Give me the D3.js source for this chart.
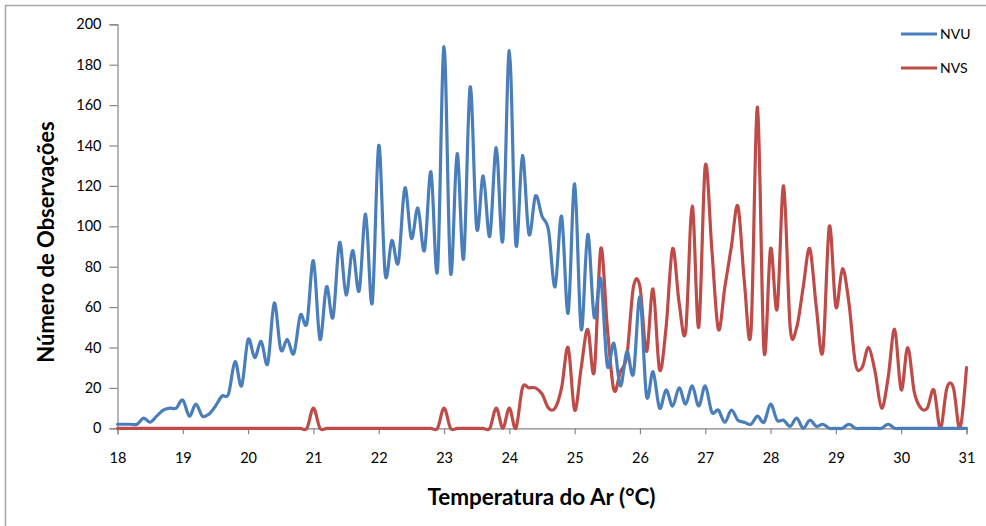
<!DOCTYPE html>
<html><head><meta charset="utf-8">
<script src="https://cdn.jsdelivr.net/npm/d3@7/dist/d3.min.js"></script>
<style>html,body{margin:0;padding:0;background:#fff;}svg{display:block;}</style>
</head><body>
<svg id="chart" width="986" height="526"></svg>
<script>
const temps = [18.0,18.1,18.2,18.3,18.4,18.5,18.6,18.7,18.8,18.9,
19.0,19.1,19.2,19.3,19.4,19.5,19.6,19.7,19.8,19.9,
20.0,20.1,20.2,20.3,20.4,20.5,20.6,20.7,20.8,20.9,
21.0,21.1,21.2,21.3,21.4,21.5,21.6,21.7,21.8,21.9,
22.0,22.1,22.2,22.3,22.4,22.5,22.6,22.7,22.8,22.9,
23.0,23.1,23.2,23.3,23.4,23.5,23.6,23.7,23.8,23.9,
24.0,24.1,24.2,24.3,24.4,24.5,24.6,24.7,24.8,24.9,
25.0,25.1,25.2,25.3,25.4,25.5,25.6,25.7,25.8,25.9,
26.0,26.1,26.2,26.3,26.4,26.5,26.6,26.7,26.8,26.9,
27.0,27.1,27.2,27.3,27.4,27.5,27.6,27.7,27.8,27.9,
28.0,28.1,28.2,28.3,28.4,28.5,28.6,28.7,28.8,28.9,
29.0,29.1,29.2,29.3,29.4,29.5,29.6,29.7,29.8,29.9,
30.0,30.1,30.2,30.3,30.4,30.5,30.6,30.7,30.8,30.9,
31.0];

const nvu = [2,2,2,2,5,3,6,9,10,10,
14,6,12,6,7,11,16,17,33,21,
44,35,43,32,62,39,44,37,56,52,
83,44,70,55,92,66,88,68,106,62,
140,76,93,82,119,94,109,88,127,78,
189,77,136,84,169,99,125,95,139,93,
187,91,135,96,115,105,98,70,105,57,
121,49,96,55,74,31,42,21,38,27,
65,16,28,10,19,11,20,12,21,11,
21,8,9,3,9,4,3,2,6,3,
12,4,4,1,5,0,4,1,2,0,
0,0,2,0,0,0,0,0,2,0,
0,0,0,0,0,0,0,0,0,0,
0];

const nvs = [0,0,0,0,0,0,0,0,0,0,
0,0,0,0,0,0,0,0,0,0,
0,0,0,0,0,0,0,0,0,0,
10,0,0,0,0,0,0,0,0,0,
0,0,0,0,0,0,0,0,0,0,
10,0,0,0,0,0,0,0,10,0,
10,0,20,20,20,17,10,10,20,40,
9,30,49,28,89,50,19,28,36,70,
70,38,69,29,50,89,62,48,110,50,
130,89,49,70,90,110,72,48,159,38,
89,59,120,50,50,70,89,60,38,100,
60,79,62,32,30,40,28,10,25,49,
19,40,18,10,10,19,0,20,20,0,
30];

const xTicks = [18,19,20,21,22,23,24,25,26,27,28,29,30,31];
const yTicks = [0,20,40,60,80,100,120,140,160,180,200];
const seriesNames = ["NVU","NVS"];
const seriesColors = ["#4a7ebb","#be4b48"];

const svg = d3.select("#chart");
const W = 986, H = 526;
const mLeft = 117.5, mRight = 966.5, mTop = 24.3, mBottom = 428.3;

// outer frame
svg.append("path").attr("d", `M5.5,${H} L5.5,5.5 L${W},5.5`)
  .attr("fill","none").attr("stroke","#a6a6a6").attr("stroke-width",1.5);

const x = d3.scaleLinear().domain([18,31]).range([mLeft,mRight]);
const y = d3.scaleLinear().domain([0,200]).range([mBottom,mTop]);

const font = "Lato, 'Open Sans', sans-serif";

// y axis
const yAxis = svg.append("g").attr("transform",`translate(${mLeft},0)`)
  .call(d3.axisLeft(y).tickValues(yTicks).tickSize(8).tickPadding(8).tickFormat(d3.format("d")));
yAxis.select(".domain").attr("stroke","#868686").attr("stroke-width",1.2);
yAxis.selectAll(".tick line").attr("stroke","#868686").attr("stroke-width",1.2);
yAxis.selectAll(".tick text").attr("fill","#000").style("font-family",font).style("font-size","14.5px");

// x axis
const xAxis = svg.append("g").attr("transform",`translate(0,${mBottom})`)
  .call(d3.axisBottom(x).tickValues(xTicks).tickSize(6).tickPadding(14).tickFormat(d3.format("d")));
xAxis.select(".domain").attr("stroke","#868686").attr("stroke-width",1.2);
xAxis.selectAll(".tick line").attr("stroke","#868686").attr("stroke-width",1.2);
xAxis.selectAll(".tick text").attr("fill","#000").attr("dy",null).attr("y",34.5)
  .style("font-family",font).style("font-size","14.5px");

// lines
const line = d3.line().x((d,i)=>x(temps[i])).y(d=>y(d)).curve(d3.curveCatmullRom.alpha(0));
[nvs, nvu].forEach((s) => {
  const idx = s === nvu ? 0 : 1;
  svg.append("path").datum(s).attr("d", line)
    .attr("fill","none").attr("stroke",seriesColors[idx]).attr("stroke-width",3.2)
    .attr("stroke-linejoin","round").attr("stroke-linecap","round");
});

// axis titles
svg.append("text").attr("x",541.5).attr("y",505).attr("text-anchor","middle")
  .style("font-family",font).style("font-weight","bold").style("font-size","22.5px")
  .text("Temperatura do Ar (°C)");
svg.append("text").attr("transform","translate(54,242) rotate(-90)").attr("text-anchor","middle")
  .style("font-family",font).style("font-weight","bold").style("font-size","22px")
  .text("Número de Observações");

// legend
const leg = svg.append("g");
seriesNames.forEach((n,i)=>{
  const ly = 34 + i*34;
  leg.append("line").attr("x1",901).attr("x2",937).attr("y1",ly).attr("y2",ly)
    .attr("stroke",seriesColors[i]).attr("stroke-width",3);
  leg.append("text").attr("x",940).attr("y",ly+5)
    .style("font-family",font).style("font-size","14px").text(n);
});
</script>
</body></html>
